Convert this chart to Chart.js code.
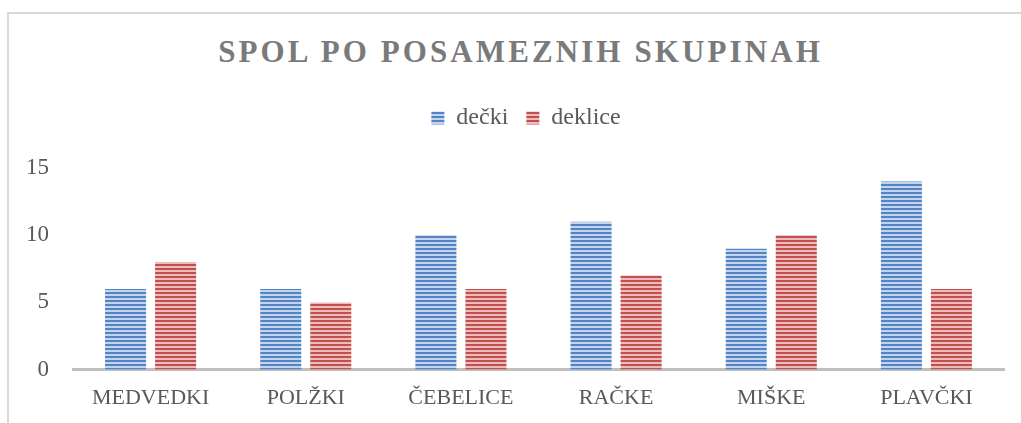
<!DOCTYPE html>
<html>
<head>
<meta charset="utf-8">
<script src="https://cdn.jsdelivr.net/npm/chart.js@4"></script>
<style>
    html, body { margin: 0; padding: 0; background: #fff; }
    #wrap { position: relative; width: 1021px; height: 423px; overflow: hidden; }
    #frame {
        position: absolute; left: 7px; top: 12px; width: 1020px; height: 420px;
        border-left: 2px solid #d9d9d9; border-top: 2px solid #d9d9d9;
    }
    #title {
        position: absolute; left: 1px; width: 1039px; top: 33px;
        text-align: center; font-family: 'Liberation Serif', serif; font-weight: bold;
        font-size: 31px; letter-spacing: 3.1px; color: #7a7a7a; line-height: 38px;
    }
    #chartCanvas { position: absolute; left: 0; top: 0; }
</style>
</head>
<body>
<div id="wrap">
    <div id="frame"></div>
    <div id="title">SPOL PO POSAMEZNIH SKUPINAH</div>
    <canvas id="chartCanvas" width="1021" height="423"></canvas>
</div>
<script>
// podatki
const skupine = ['MEDVEDKI', 'POLŽKI', 'ČEBELICE', 'RAČKE', 'MIŠKE', 'PLAVČKI'];
const decki = [6, 6, 10, 11, 9, 14];
const deklice = [8, 5, 6, 7, 10, 6];
const yTicks = [0, 5, 10, 15];

// horizontal stripes like the Word fill pattern
const makeStripes = (dark, light) => {
    const c = document.createElement('canvas');
    c.width = 4;
    c.height = 4;
    const g = c.getContext('2d');
    g.fillStyle = light;
    g.fillRect(0, 0, 4, 4);
    g.fillStyle = dark;
    g.fillRect(0, 0, 4, 2);
    return g.createPattern(c, 'repeat');
};

// extra room between legend and plot, legend nudged right
const legendTweak = {
    id: 'legendTweak',
    beforeInit(chart) {
        const legend = chart.legend;
        const fit = legend.fit;
        const draw = legend.draw;
        legend.fit = function () {
            fit.call(legend);
            this.height += 28;
        };
        legend.draw = function () {
            chart.ctx.save();
            chart.ctx.translate(19, 0);
            draw.call(legend);
            chart.ctx.restore();
        };
    }
};

document.addEventListener('DOMContentLoaded', () => {
    const chartCanvas = document.getElementById('chartCanvas');
    const bluePattern = makeStripes('#5384c3', '#c3d4ec');
    const redPattern = makeStripes('#c2504e', '#ebbcbb');

    Chart.defaults.font.family = "'Liberation Serif', serif";
    Chart.defaults.color = '#595959';

    new Chart(chartCanvas, {
        type: 'bar',
        data: {
            labels: skupine,
            datasets: [
                { label: 'dečki', data: decki, backgroundColor: bluePattern, borderWidth: 0 },
                { label: 'deklice', data: deklice, backgroundColor: redPattern, borderWidth: 0 }
            ]
        },
        options: {
            responsive: false,
            animation: false,
            categoryPercentage: 0.645,
            barPercentage: 0.82,
            layout: { padding: { left: 10, right: 17, top: 88, bottom: 5 } },
            plugins: {
                legend: {
                    position: 'top',
                    labels: {
                        boxWidth: 13,
                        boxHeight: 13,
                        padding: 18,
                        font: { size: 24 },
                        color: '#595959'
                    }
                },
                tooltip: { enabled: false }
            },
            scales: {
                x: {
                    grid: { display: false },
                    border: { display: true, color: '#bfbfbf', width: 3 },
                    ticks: { font: { size: 22 }, padding: 7, color: '#595959' }
                },
                y: {
                    min: 0,
                    max: 15,
                    afterBuildTicks: (axis) => {
                        axis.ticks = yTicks.map(v => ({ value: v }));
                    },
                    grid: { display: false },
                    border: { display: false },
                    ticks: { font: { size: 23 }, padding: 16, color: '#595959' }
                }
            }
        },
        plugins: [legendTweak]
    });
});
</script>
</body>
</html>
